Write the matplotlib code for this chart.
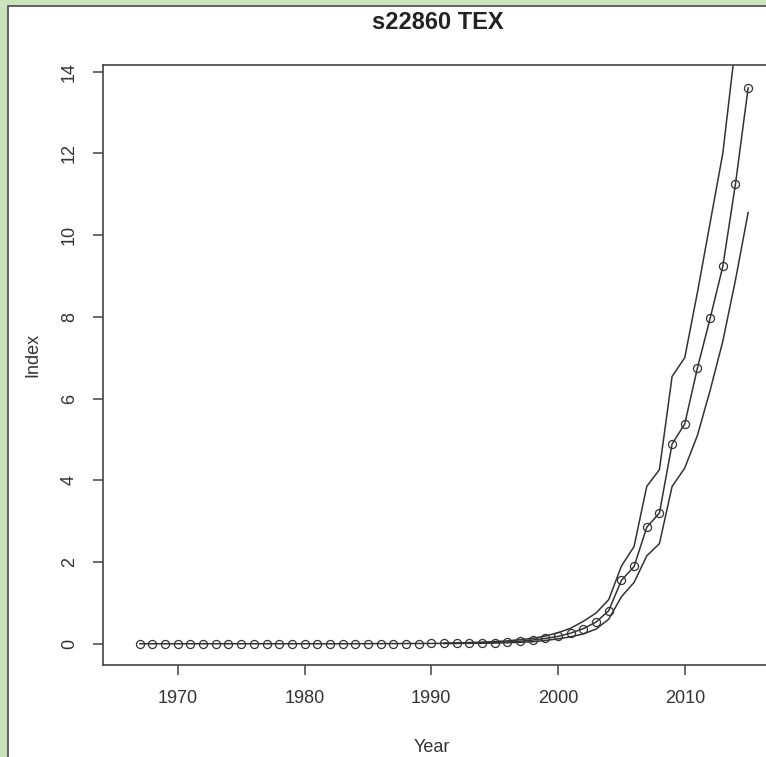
import matplotlib
matplotlib.use("Agg")
import matplotlib.pyplot as plt
from matplotlib.patches import Rectangle
from matplotlib.lines import Line2D

plt.rcParams['font.family'] = ['Liberation Sans', 'DejaVu Sans']

# index values
years = list(range(1967, 2016))
index = [0.0] * 18 + [0.002, 0.003, 0.004, 0.005, 0.006, 0.008,
         0.01, 0.01, 0.015, 0.02, 0.03, 0.04, 0.06, 0.09, 0.13,
         0.18, 0.26, 0.37, 0.53, 0.81, 1.55, 1.89, 2.85, 3.20,
         4.89, 5.38, 6.75, 7.96, 9.23, 11.25, 13.6]

band_years = list(range(1991, 2016))
upper = [0.015, 0.02, 0.03, 0.04, 0.055, 0.07, 0.1, 0.13, 0.19, 0.27,
         0.38, 0.55, 0.75, 1.08, 1.9, 2.38, 3.85, 4.26, 6.54, 7.0,
         8.6, 10.3, 12.0, 14.65, 17.0]
lower = [0.005, 0.008, 0.01, 0.012, 0.018, 0.025, 0.035, 0.05, 0.08, 0.12,
         0.17, 0.24, 0.36, 0.6, 1.15, 1.5, 2.15, 2.45, 3.85, 4.3,
         5.1, 6.2, 7.4, 8.9, 10.55]

xticks = [1970, 1980, 1990, 2000, 2010]
yticks = [0, 2, 4, 6, 8, 10, 12, 14]

W, H = 766, 757
fig = plt.figure(figsize=(W / 100, H / 100), dpi=100)
fig.patch.set_facecolor('#c9e4bb')

# white panel, only its left and top edges are visible
x0, y0 = 7.5 / W, 1 - 5.5 / H
fig.patches.append(Rectangle((x0, -0.05), 1.2, y0 + 0.05,
                             transform=fig.transFigure, facecolor='white',
                             edgecolor='none', zorder=-10))
fig.lines.append(Line2D([x0, x0, 1.1], [-0.1, y0, y0],
                        transform=fig.transFigure, color='#555555',
                        lw=1.3, zorder=-9))

ax = fig.add_axes([103 / W, 92 / H, 670.5 / W, 600 / H])
ax.set_zorder(5)
ax.set_facecolor('white')

col = '#333333'
ax.plot(years, index, '-o', color=col, lw=1.1, ms=5.8,
        mfc='none', mec=col, mew=0.9)
ax.plot(band_years, upper, '-', color=col, lw=1.1)
ax.plot(band_years, lower, '-', color=col, lw=1.1)

ax.set_xlim(1964.1, 2017.0)
ax.set_ylim(-0.52, 14.16)
ax.set_xticks(xticks)
ax.set_yticks(yticks)

for s in ax.spines.values():
    s.set_color('#444444')
    s.set_linewidth(1.2)
ax.spines['right'].set_visible(False)

ax.tick_params(axis='both', direction='out', length=7, width=1.1,
               colors='#444444', labelcolor='#333333', labelsize=13)
ax.tick_params(axis='x', pad=11)
ax.tick_params(axis='y', pad=11)
for lab in ax.get_yticklabels():
    lab.set_rotation(90)
    lab.set_va('center')

ax.set_title('s22860 TEX', fontsize=17, fontweight='bold', color='#222222',
             pad=26)
fig.text(432 / W, 1 - 748 / H, 'Year', ha='center', va='center',
         fontsize=13, color='#333333')
fig.text(33 / W, 1 - 355 / H, 'Index', ha='center', va='center',
         rotation=90, fontsize=13, color='#333333')

fig.savefig('out.png', dpi=100, facecolor=fig.get_facecolor())
